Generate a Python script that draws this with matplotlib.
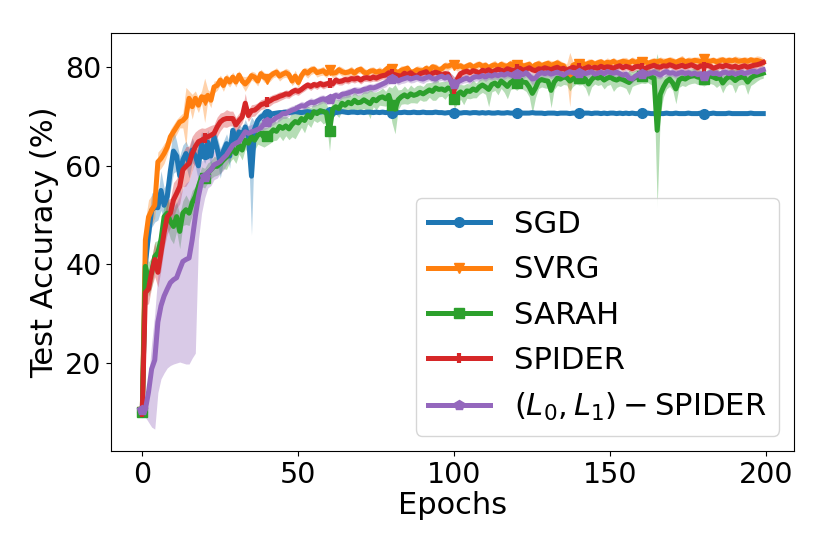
import numpy as np
import matplotlib
matplotlib.use("Agg")
import matplotlib.pyplot as plt

# test accuracy (%) per epoch, mean over runs
epochs = list(range(200))

sgd = [
    10.0, 40.0, 46.0, 51.0, 51.6, 51.5, 55.0, 52.0, 53.8, 59.0,
    63.0, 62.0, 58.0, 61.2, 62.5, 60.5, 63.2, 62.0, 60.0, 64.5,
    62.5, 64.8, 62.0, 65.9, 63.5, 60.5, 63.0, 64.5, 62.0, 67.2,
    65.2, 66.9, 66.2, 67.9, 65.9, 57.9, 67.5, 69.2, 69.9, 70.3,
    70.5, 70.4, 70.6, 70.7, 70.8, 70.8, 70.9, 70.8, 70.9, 71.0,
    70.9, 70.8, 70.9, 71.0, 70.9, 70.8, 70.9, 70.9, 71.0, 70.8,
    70.9, 70.9, 70.8, 70.9, 71.0, 70.9, 70.8, 70.9, 70.9, 70.8,
    70.9, 70.8, 70.9, 70.9, 70.8, 70.9, 70.8, 70.9, 70.8, 70.9,
    70.8, 70.9, 70.8, 70.8, 70.9, 70.8, 70.8, 70.9, 70.8, 70.8,
    70.9, 70.8, 70.8, 70.8, 70.9, 70.8, 70.8, 70.7, 70.8, 70.8,
    70.8, 70.8, 70.7, 70.8, 70.8, 70.7, 70.8, 70.8, 70.7, 70.8,
    70.7, 70.8, 70.7, 70.7, 70.8, 70.7, 70.7, 70.8, 70.7, 70.7,
    70.7, 70.8, 70.7, 70.7, 70.7, 70.8, 70.7, 70.7, 70.7, 70.6,
    70.7, 70.7, 70.7, 70.6, 70.7, 70.7, 70.7, 70.6, 70.7, 70.7,
    70.7, 70.6, 70.7, 70.7, 70.6, 70.7, 70.7, 70.6, 70.7, 70.6,
    70.7, 70.7, 70.6, 70.7, 70.6, 70.7, 70.6, 70.7, 70.6, 70.6,
    70.7, 70.6, 70.7, 70.6, 70.6, 70.7, 70.6, 70.6, 70.7, 70.6,
    70.6, 70.7, 70.6, 70.6, 70.6, 70.7, 70.6, 70.6, 70.6, 70.7,
    70.6, 70.6, 70.6, 70.7, 70.6, 70.6, 70.6, 70.6, 70.7, 70.6,
    70.6, 70.6, 70.6, 70.6, 70.6, 70.7, 70.6, 70.6, 70.6, 70.6,
]
sgd_std = [
    0.3, 3.0, 3.0, 3.5, 3.0, 2.5, 4.0, 3.5, 3.0, 4.0,
    4.5, 3.0, 4.0, 3.0, 2.5, 3.0, 2.5, 2.0, 3.0, 2.5,
    2.0, 2.5, 2.0, 2.0, 2.5, 3.0, 2.0, 2.0, 2.5, 1.5,
    2.0, 1.5, 1.5, 1.5, 2.0, 12.0, 1.5, 1.2, 1.0, 0.8,
    0.8, 0.6, 0.5, 0.5, 0.4, 0.4, 0.3, 0.3, 0.3, 0.3,
    0.3, 0.3, 0.2, 0.3, 0.3, 0.2, 0.3, 0.3, 0.2, 0.3,
    0.3, 0.2, 0.3, 0.3, 0.2, 0.3, 0.3, 0.2, 0.3, 0.3,
    0.2, 0.3, 0.3, 0.2, 0.3, 0.3, 0.2, 0.3, 0.3, 0.2,
    0.3, 0.3, 0.2, 0.3, 0.3, 0.2, 0.3, 0.3, 0.2, 0.3,
    0.3, 0.2, 0.3, 0.3, 0.2, 0.3, 0.3, 0.2, 0.3, 0.3,
    0.2, 0.3, 0.3, 0.2, 0.3, 0.3, 0.2, 0.3, 0.3, 0.2,
    0.3, 0.3, 0.2, 0.3, 0.3, 0.2, 0.3, 0.3, 0.2, 0.3,
    0.3, 0.2, 0.3, 0.3, 0.2, 0.3, 0.3, 0.2, 0.3, 0.3,
    0.2, 0.3, 0.3, 0.2, 0.3, 0.3, 0.2, 0.3, 0.3, 0.2,
    0.3, 0.3, 0.2, 0.3, 0.3, 0.2, 0.3, 0.3, 0.2, 0.3,
    0.3, 0.2, 0.3, 0.3, 0.2, 0.3, 0.3, 0.2, 0.3, 0.3,
    0.2, 0.3, 0.3, 0.2, 0.3, 0.3, 0.2, 0.3, 0.3, 0.2,
    0.3, 0.3, 0.2, 0.3, 0.3, 0.2, 0.3, 0.3, 0.2, 0.3,
    0.3, 0.2, 0.3, 0.3, 0.2, 0.3, 0.3, 0.2, 0.3, 0.3,
    0.2, 0.3, 0.3, 0.2, 0.3, 0.3, 0.2, 0.3, 0.3, 0.2,
]

svrg = [
    10.0, 45.0, 49.6, 51.0, 52.0, 60.8, 61.5, 62.5, 63.8, 65.9,
    66.9, 67.9, 68.9, 69.2, 69.9, 73.7, 72.0, 73.7, 72.3, 74.0,
    73.3, 74.3, 73.3, 76.0, 76.3, 77.4, 76.3, 77.7, 77.0, 78.0,
    77.0, 78.4, 77.2, 76.6, 77.3, 78.3, 78.0, 77.2, 78.7, 78.0,
    77.6, 78.2, 78.7, 79.0, 78.2, 78.6, 78.9, 78.5, 77.2, 78.2,
    76.9, 78.3, 79.2, 78.8, 79.4, 79.6, 78.9, 79.1, 79.3, 78.7,
    79.4, 78.8, 78.9, 79.5, 79.1, 78.9, 79.0, 79.3, 78.8, 79.4,
    79.6, 79.0, 78.8, 79.2, 79.3, 79.0, 79.2, 78.9, 79.5, 80.0,
    79.6, 79.2, 78.9, 79.4, 79.6, 79.8, 78.9, 79.1, 79.5, 79.3,
    79.3, 79.8, 79.4, 80.1, 79.9, 79.4, 79.7, 80.3, 80.2, 80.5,
    80.4, 80.1, 80.3, 79.9, 80.2, 80.5, 80.0, 80.3, 80.6, 80.2,
    80.4, 79.9, 80.3, 80.5, 80.1, 80.6, 80.3, 80.2, 80.7, 80.4,
    80.5, 80.8, 80.2, 80.4, 80.6, 79.9, 80.5, 80.7, 80.3, 80.6,
    80.8, 80.4, 80.6, 80.9, 80.5, 80.3, 79.2, 77.5, 80.4, 80.7,
    80.6, 80.9, 80.5, 80.8, 81.0, 80.6, 80.9, 81.1, 80.7, 81.0,
    80.9, 81.2, 80.8, 81.0, 81.2, 81.1, 80.9, 81.3, 81.0, 81.2,
    81.1, 81.3, 80.8, 81.0, 81.2, 81.1, 81.3, 81.0, 81.2, 81.4,
    81.2, 81.0, 81.3, 81.5, 81.1, 81.3, 81.2, 81.4, 81.3, 81.1,
    81.6, 81.3, 81.2, 81.4, 81.1, 81.3, 81.5, 81.2, 81.4, 81.3,
    81.5, 81.2, 81.3, 81.4, 81.2, 81.5, 81.3, 81.4, 81.2, 81.0,
]
svrg_std = [
    0.3, 4.0, 3.5, 3.0, 2.5, 2.0, 2.0, 2.0, 1.5, 1.5,
    1.5, 1.5, 1.2, 1.5, 6.0, 1.5, 2.5, 1.5, 1.5, 1.2,
    4.5, 1.2, 1.5, 1.2, 1.0, 1.0, 1.2, 1.0, 1.0, 1.0,
    1.0, 0.9, 1.0, 1.5, 1.0, 0.9, 1.0, 1.0, 0.9, 1.0,
    0.9, 1.0, 0.8, 0.9, 1.0, 0.8, 0.9, 1.0, 0.9, 1.2,
    1.0, 0.9, 0.8, 1.0, 0.9, 0.8, 0.9, 0.8, 0.9, 0.8,
    0.8, 0.9, 0.7, 0.8, 0.9, 0.7, 0.8, 0.9, 0.8, 0.7,
    0.8, 0.9, 0.7, 0.8, 0.8, 0.7, 0.9, 0.8, 0.7, 0.8,
    0.8, 0.7, 0.8, 0.9, 0.7, 0.8, 0.8, 0.7, 0.8, 0.9,
    0.7, 0.8, 0.8, 0.7, 0.8, 0.9, 0.7, 0.8, 0.8, 0.7,
    0.8, 0.9, 0.7, 0.8, 0.8, 0.7, 0.8, 0.9, 0.7, 0.8,
    0.8, 0.7, 0.8, 0.9, 0.7, 0.8, 0.8, 0.7, 0.8, 0.9,
    0.7, 0.8, 0.8, 0.7, 0.8, 0.9, 0.7, 0.8, 0.8, 0.7,
    0.8, 0.9, 0.7, 0.8, 0.8, 0.7, 1.5, 5.5, 0.8, 0.7,
    0.8, 0.7, 0.8, 0.9, 0.7, 0.8, 0.8, 0.7, 0.8, 0.9,
    0.7, 0.8, 0.8, 0.7, 0.8, 0.9, 0.7, 0.8, 0.8, 0.7,
    0.8, 0.9, 0.7, 0.8, 0.8, 0.7, 0.8, 0.9, 0.7, 0.8,
    0.8, 0.7, 0.8, 0.9, 0.7, 0.8, 0.8, 0.7, 0.8, 0.9,
    0.7, 0.8, 0.8, 0.7, 0.8, 0.9, 0.7, 0.8, 0.8, 0.7,
    0.8, 0.9, 0.7, 0.8, 0.8, 0.7, 0.8, 0.9, 1.0, 0.8,
]

sarah = [
    10.0, 39.6, 37.0, 38.4, 41.6, 42.4, 45.0, 49.7, 50.4, 48.7,
    47.7, 49.7, 46.7, 50.4, 51.1, 50.4, 52.5, 53.8, 55.8, 57.8,
    57.5, 58.6, 59.2, 59.9, 59.9, 60.5, 61.2, 61.8, 62.5, 63.5,
    62.5, 64.2, 63.2, 65.2, 64.6, 65.9, 65.2, 66.2, 66.6, 65.8,
    66.0, 66.6, 67.3, 67.0, 68.0, 67.6, 68.1, 67.5, 68.4, 69.0,
    68.7, 69.6, 69.2, 70.3, 69.8, 71.0, 70.6, 71.2, 71.0, 70.8,
    67.0, 71.5, 72.0, 71.6, 72.7, 72.3, 72.9, 72.6, 73.3, 72.8,
    72.9, 73.4, 73.0, 72.6, 73.5, 73.2, 73.8, 74.0, 73.6, 74.3,
    72.3, 71.5, 73.4, 74.0, 74.4, 74.0, 74.6, 74.3, 74.5, 74.9,
    74.6, 75.0, 75.4, 75.1, 75.8, 75.5, 75.6, 75.3, 75.8, 75.6,
    73.6, 74.5, 75.0, 74.4, 75.2, 75.1, 75.6, 75.3, 76.0, 76.4,
    76.0, 75.5, 76.5, 76.8, 76.2, 77.2, 76.7, 76.1, 76.9, 77.3,
    76.8, 77.4, 77.0, 76.9, 76.0, 74.7, 75.8, 77.2, 77.5, 77.3,
    77.2, 75.3, 77.0, 77.8, 77.6, 78.0, 77.9, 77.2, 77.6, 78.1,
    77.9, 78.0, 77.6, 76.6, 77.5, 78.1, 77.8, 78.0, 77.4, 77.8,
    78.0, 77.6, 77.4, 77.7, 77.5, 77.2, 76.9, 77.6, 77.9, 78.1,
    78.3, 78.2, 78.4, 78.0, 77.8, 67.2, 74.5, 76.0, 77.1, 77.6,
    76.8, 75.6, 77.4, 77.8, 77.6, 78.0, 78.2, 78.3, 78.0, 77.9,
    77.7, 78.0, 78.2, 78.0, 77.7, 77.9, 76.8, 77.6, 78.1, 77.9,
    77.3, 77.8, 78.0, 77.9, 77.0, 77.8, 78.2, 78.4, 78.6, 78.8,
]
sarah_std = [
    0.3, 3.0, 3.5, 3.0, 3.0, 2.5, 3.0, 2.5, 3.0, 3.5,
    3.5, 3.0, 3.5, 2.5, 3.0, 2.5, 2.5, 2.0, 2.0, 2.0,
    2.0, 2.0, 1.8, 2.0, 1.8, 2.0, 1.8, 2.5, 1.8, 2.0,
    2.0, 1.8, 2.0, 1.8, 2.0, 1.8, 2.0, 1.8, 2.5, 2.0,
    1.8, 2.0, 2.2, 1.8, 2.0, 2.5, 2.0, 2.2, 2.5, 3.5,
    2.0, 1.8, 2.5, 1.8, 2.0, 1.8, 1.8, 2.0, 2.5, 1.8,
    4.0, 1.8, 1.5, 1.8, 1.5, 1.8, 2.0, 1.5, 1.8, 1.5,
    1.5, 1.8, 2.0, 3.0, 1.5, 1.8, 1.5, 1.8, 1.5, 1.8,
    3.5, 5.0, 2.0, 1.5, 1.8, 1.5, 1.8, 1.5, 1.8, 1.5,
    1.5, 1.8, 1.5, 1.8, 2.5, 1.5, 1.5, 1.8, 1.5, 1.5,
    2.0, 1.8, 1.5, 2.0, 1.5, 1.5, 1.8, 1.5, 1.5, 1.5,
    1.5, 3.5, 1.5, 1.5, 1.8, 1.5, 1.8, 2.5, 1.5, 1.5,
    1.5, 1.5, 1.5, 1.8, 2.0, 4.0, 2.0, 1.5, 1.5, 1.5,
    1.5, 3.5, 1.5, 1.5, 1.5, 1.5, 1.5, 2.0, 1.5, 1.5,
    1.5, 1.5, 1.8, 2.5, 1.5, 1.5, 1.5, 1.5, 1.8, 1.5,
    1.5, 2.5, 1.5, 1.5, 1.5, 1.5, 2.5, 1.5, 1.5, 1.5,
    1.5, 1.5, 1.5, 1.5, 2.0, 15.6, 4.0, 2.0, 1.5, 1.5,
    1.5, 3.0, 1.5, 1.5, 1.5, 1.5, 1.5, 1.5, 1.5, 1.5,
    1.5, 1.5, 1.5, 1.5, 1.8, 1.5, 2.0, 1.5, 1.5, 1.5,
    2.5, 1.5, 1.5, 1.5, 2.5, 1.5, 1.5, 1.2, 1.0, 1.0,
]

spider = [
    10.0, 34.3, 35.0, 38.4, 41.0, 38.4, 42.4, 46.4, 49.7, 50.4,
    53.1, 54.4, 55.8, 59.2, 59.9, 60.5, 62.5, 63.9, 64.9, 65.2,
    65.6, 65.9, 66.2, 66.6, 67.9, 68.9, 69.4, 69.6, 69.6, 69.6,
    68.3, 69.2, 69.9, 72.7, 70.2, 71.2, 71.3, 71.8, 72.4, 72.6,
    72.9, 73.2, 73.6, 73.8, 74.1, 74.3, 74.6, 74.5, 75.0, 75.3,
    75.1, 75.5, 76.0, 76.4, 76.1, 76.5, 76.3, 76.7, 76.4, 76.6,
    76.8, 76.6, 77.4, 77.1, 77.2, 77.5, 77.4, 77.7, 77.6, 77.8,
    77.4, 77.8, 77.9, 77.7, 78.0, 77.8, 78.1, 78.3, 78.4, 78.9,
    78.6, 78.5, 78.3, 78.2, 78.8, 78.5, 78.9, 78.4, 78.2, 78.7,
    78.9, 79.1, 78.3, 78.8, 79.0, 78.8, 78.4, 78.7, 78.6, 77.2,
    75.5, 77.6, 78.7, 79.0, 79.2, 78.9, 79.3, 79.1, 78.8, 79.4,
    79.2, 79.5, 79.0, 79.3, 79.6, 79.4, 79.2, 79.7, 79.5, 79.3,
    79.6, 79.8, 79.4, 79.6, 79.9, 79.5, 79.3, 79.7, 79.6, 79.9,
    79.7, 79.5, 79.8, 80.0, 79.6, 79.8, 79.4, 79.7, 80.0, 79.8,
    79.9, 79.6, 79.8, 80.1, 79.7, 80.0, 79.8, 80.2, 79.9, 80.1,
    80.0, 79.8, 80.1, 80.3, 79.9, 80.2, 80.0, 79.7, 80.1, 80.2,
    79.9, 79.7, 80.0, 80.2, 80.4, 80.1, 80.0, 80.3, 80.2, 80.5,
    80.3, 80.0, 80.2, 80.4, 80.1, 80.3, 80.5, 80.2, 79.9, 80.3,
    80.1, 80.4, 80.2, 79.8, 80.0, 80.3, 80.1, 80.4, 80.2, 80.0,
    80.2, 79.9, 80.1, 80.3, 80.0, 80.2, 80.4, 80.5, 80.7, 81.0,
]
spider_std = [
    0.3, 2.5, 3.0, 3.0, 3.5, 3.0, 3.5, 3.0, 3.5, 3.0,
    3.5, 3.0, 3.5, 3.5, 4.0, 3.5, 3.5, 3.0, 2.5, 2.5,
    2.0, 2.0, 2.0, 1.8, 2.0, 1.8, 1.5, 1.8, 1.5, 1.5,
    1.5, 1.5, 1.2, 2.0, 1.2, 1.2, 1.2, 1.0, 1.0, 1.0,
    1.0, 1.0, 0.9, 0.9, 0.9, 0.8, 0.8, 0.8, 0.8, 0.8,
    0.8, 0.7, 0.8, 0.7, 0.8, 0.7, 0.8, 0.7, 0.8, 0.7,
    0.8, 0.7, 0.8, 0.7, 0.8, 0.7, 0.8, 0.7, 0.8, 0.7,
    0.8, 0.7, 0.8, 0.7, 0.8, 0.7, 0.8, 0.7, 0.8, 0.7,
    0.8, 0.7, 0.8, 0.7, 0.8, 0.7, 0.8, 0.7, 0.8, 0.7,
    0.8, 0.7, 0.8, 0.7, 0.8, 0.7, 0.8, 0.7, 0.8, 1.5,
    2.5, 1.5, 0.8, 0.7, 0.8, 0.7, 0.8, 0.7, 0.8, 0.7,
    0.8, 0.7, 0.8, 0.7, 0.8, 0.7, 0.8, 0.7, 0.8, 0.7,
    0.8, 0.7, 0.8, 0.7, 0.8, 0.7, 0.8, 0.7, 0.8, 0.7,
    0.8, 0.7, 0.8, 0.7, 0.8, 0.7, 0.8, 0.7, 0.8, 0.7,
    0.8, 0.7, 0.8, 0.7, 0.8, 0.7, 0.8, 0.7, 0.8, 0.7,
    0.8, 0.7, 0.8, 0.7, 0.8, 0.7, 0.8, 0.7, 0.8, 0.7,
    0.8, 0.7, 0.8, 0.7, 0.8, 0.7, 0.8, 0.7, 0.8, 0.7,
    0.8, 0.7, 0.8, 0.7, 0.8, 0.7, 0.8, 0.7, 0.8, 0.7,
    0.8, 0.7, 0.8, 0.7, 0.8, 0.7, 0.8, 0.7, 0.8, 0.7,
    0.8, 0.7, 0.8, 0.7, 0.8, 0.7, 0.8, 0.7, 0.8, 0.7,
]

# (L0,L1)-SPIDER: its band is lopsided early on, so below / above spreads are kept apart
lspider = [
    10.4, 10.6, 14.1, 18.8, 20.6, 28.3, 31.6, 33.6, 35.0, 36.3,
    36.9, 37.3, 39.0, 40.6, 41.0, 41.3, 45.0, 49.7, 53.8, 56.8,
    57.8, 58.6, 59.2, 60.2, 60.5, 60.9, 61.6, 62.2, 63.2, 64.2,
    64.6, 64.9, 65.9, 66.9, 66.6, 66.9, 67.1, 67.4, 67.7, 68.5,
    68.8, 69.0, 69.3, 69.8, 70.1, 70.6, 70.6, 71.0, 71.3, 71.5,
    71.9, 72.2, 72.1, 72.6, 72.9, 72.8, 73.1, 73.4, 73.6, 73.3,
    73.5, 74.0, 74.3, 74.0, 74.5, 74.6, 74.8, 75.0, 75.3, 75.1,
    75.2, 75.5, 75.6, 75.9, 75.8, 76.0, 76.3, 76.6, 76.9, 77.4,
    77.6, 77.8, 77.2, 77.5, 77.7, 77.9, 77.6, 77.8, 78.0, 77.7,
    77.6, 77.9, 78.1, 77.7, 77.6, 78.0, 78.2, 77.8, 78.1, 77.2,
    76.6, 77.0, 77.3, 77.6, 77.8, 77.4, 77.9, 78.1, 78.0, 78.3,
    78.0, 78.4, 78.2, 78.5, 78.3, 78.6, 78.4, 78.7, 78.5, 78.2,
    78.6, 78.8, 78.5, 78.9, 78.3, 77.6, 77.8, 78.6, 78.9, 78.7,
    78.9, 78.6, 78.8, 79.0, 78.7, 78.4, 78.8, 79.1, 78.9, 78.6,
    78.8, 79.0, 78.7, 78.9, 79.1, 78.6, 78.8, 79.0, 78.7, 79.1,
    78.9, 78.8, 79.0, 78.7, 78.4, 78.6, 77.8, 77.6, 78.2, 78.5,
    78.7, 78.9, 78.6, 78.8, 79.0, 78.7, 78.4, 78.9, 79.1, 78.8,
    78.9, 78.6, 78.8, 79.0, 78.7, 78.9, 78.6, 78.8, 78.5, 78.7,
    78.3, 78.6, 78.9, 78.7, 78.8, 78.5, 78.9, 79.0, 78.7, 78.9,
    78.6, 78.8, 79.0, 78.7, 78.9, 79.1, 79.2, 79.0, 79.3, 79.5,
]
lspider_below = [
    0.5, 1.6, 6.1, 11.8, 14.0, 14.3, 14.8, 15.6, 16.0, 16.8,
    17.1, 17.3, 18.8, 20.6, 21.2, 21.5, 24.0, 27.7, 8.8, 6.4,
    4.3, 3.1, 3.2, 3.0, 3.0, 2.5, 2.5, 2.0, 2.0, 2.0,
    1.8, 1.8, 1.5, 1.5, 1.5, 1.5, 1.5, 1.2, 1.2, 1.2,
    1.2, 1.0, 1.0, 1.0, 1.0, 1.0, 1.0, 0.9, 0.9, 0.9,
    0.8, 0.9, 0.8, 0.8, 0.9, 0.8, 0.8, 0.9, 0.8, 0.8,
    0.9, 0.8, 0.8, 0.9, 0.8, 0.8, 0.9, 0.8, 0.8, 0.9,
    0.8, 0.8, 0.9, 0.8, 0.8, 0.9, 0.8, 0.8, 0.9, 0.8,
    0.8, 0.9, 0.8, 0.8, 0.9, 0.8, 0.8, 0.9, 0.8, 0.8,
    0.9, 0.8, 0.8, 0.9, 0.8, 0.8, 0.9, 0.8, 0.8, 1.5,
    1.5, 0.9, 0.8, 0.8, 0.9, 0.8, 0.8, 0.9, 0.8, 0.8,
    0.9, 0.8, 0.8, 0.9, 0.8, 0.8, 0.9, 0.8, 0.8, 0.9,
    0.8, 0.8, 0.9, 0.8, 0.8, 1.2, 0.8, 0.8, 0.9, 0.8,
    0.8, 0.9, 0.8, 0.8, 0.9, 0.8, 0.8, 0.9, 0.8, 0.8,
    0.9, 0.8, 0.8, 0.9, 0.8, 0.8, 0.9, 0.8, 0.8, 0.9,
    0.8, 0.8, 0.9, 0.8, 0.8, 0.9, 1.2, 0.8, 0.8, 0.9,
    0.8, 0.8, 0.9, 0.8, 0.8, 0.9, 0.8, 0.8, 0.9, 0.8,
    0.8, 0.9, 0.8, 0.8, 0.9, 0.8, 0.8, 0.9, 0.8, 0.8,
    0.9, 0.8, 0.8, 0.9, 0.8, 0.8, 0.9, 0.8, 0.8, 0.9,
    0.8, 0.8, 0.9, 0.8, 0.8, 0.9, 0.8, 0.8, 0.9, 0.8,
]
lspider_above = [
    0.5, 1.4, 2.9, 5.2, 9.4, 9.7, 10.4, 11.4, 13.0, 13.7,
    15.1, 15.2, 15.0, 14.9, 15.5, 15.7, 14.0, 12.3, 6.2, 4.2,
    3.7, 3.1, 3.0, 3.0, 3.0, 2.5, 2.5, 2.0, 2.0, 2.0,
    1.8, 1.8, 1.5, 1.5, 1.5, 1.5, 1.5, 1.2, 1.2, 1.2,
    1.2, 1.0, 1.0, 1.0, 1.0, 1.0, 1.0, 0.9, 0.9, 0.9,
    0.8, 0.9, 0.8, 0.8, 0.9, 0.8, 0.8, 0.9, 0.8, 0.8,
    0.9, 0.8, 0.8, 0.9, 0.8, 0.8, 0.9, 0.8, 0.8, 0.9,
    0.8, 0.8, 0.9, 0.8, 0.8, 0.9, 0.8, 0.8, 0.9, 0.8,
    0.8, 0.9, 0.8, 0.8, 0.9, 0.8, 0.8, 0.9, 0.8, 0.8,
    0.9, 0.8, 0.8, 0.9, 0.8, 0.8, 0.9, 0.8, 0.8, 1.5,
    1.5, 0.9, 0.8, 0.8, 0.9, 0.8, 0.8, 0.9, 0.8, 0.8,
    0.9, 0.8, 0.8, 0.9, 0.8, 0.8, 0.9, 0.8, 0.8, 0.9,
    0.8, 0.8, 0.9, 0.8, 0.8, 1.2, 0.8, 0.8, 0.9, 0.8,
    0.8, 0.9, 0.8, 0.8, 0.9, 0.8, 0.8, 0.9, 0.8, 0.8,
    0.9, 0.8, 0.8, 0.9, 0.8, 0.8, 0.9, 0.8, 0.8, 0.9,
    0.8, 0.8, 0.9, 0.8, 0.8, 0.9, 1.2, 0.8, 0.8, 0.9,
    0.8, 0.8, 0.9, 0.8, 0.8, 0.9, 0.8, 0.8, 0.9, 0.8,
    0.8, 0.9, 0.8, 0.8, 0.9, 0.8, 0.8, 0.9, 0.8, 0.8,
    0.9, 0.8, 0.8, 0.9, 0.8, 0.8, 0.9, 0.8, 0.8, 0.9,
    0.8, 0.8, 0.9, 0.8, 0.8, 0.9, 0.8, 0.8, 0.9, 0.8,
]

labels = ['SGD', 'SVRG', 'SARAH', 'SPIDER', r'$(L_0,L_1)-$SPIDER']
markers = ['o', 'v', 's', '|', 'p']
colors = ['tab:blue', 'tab:orange', 'tab:green', 'tab:red', 'tab:purple']

x = np.array(epochs)
means = [np.array(sgd), np.array(svrg), np.array(sarah), np.array(spider), np.array(lspider)]
lows = [np.array(sgd) - np.array(sgd_std),
        np.array(svrg) - np.array(svrg_std),
        np.array(sarah) - np.array(sarah_std),
        np.array(spider) - np.array(spider_std),
        np.array(lspider) - np.array(lspider_below)]
highs = [np.array(sgd) + np.array(sgd_std),
         np.array(svrg) + np.array(svrg_std),
         np.array(sarah) + np.array(sarah_std),
         np.array(spider) + np.array(spider_std),
         np.array(lspider) + np.array(lspider_above)]

fig = plt.figure(figsize=(8.3, 5.54), dpi=100)
ax = fig.add_subplot(111)
fig.subplots_adjust(left=0.134, right=0.957, bottom=0.186, top=0.940)

for i in range(5):
    ax.plot(x, means[i], color=colors[i], marker=markers[i], markevery=20,
            lw=3.6, ms=7, mew=3 if markers[i] == '|' else 1, label=labels[i])
    ax.fill_between(x, lows[i], highs[i], color=colors[i], alpha=0.35, lw=0)

ax.set_ylim(2.16, 86.9)
ax.set_xlabel('Epochs', fontsize=22, labelpad=2)
ax.set_ylabel('Test Accuracy (%)', fontsize=22)
ax.tick_params(labelsize=20.5)
ax.legend(loc='lower right', fontsize=22.1, labelspacing=0.53)

fig.savefig('out.png', dpi=100)
